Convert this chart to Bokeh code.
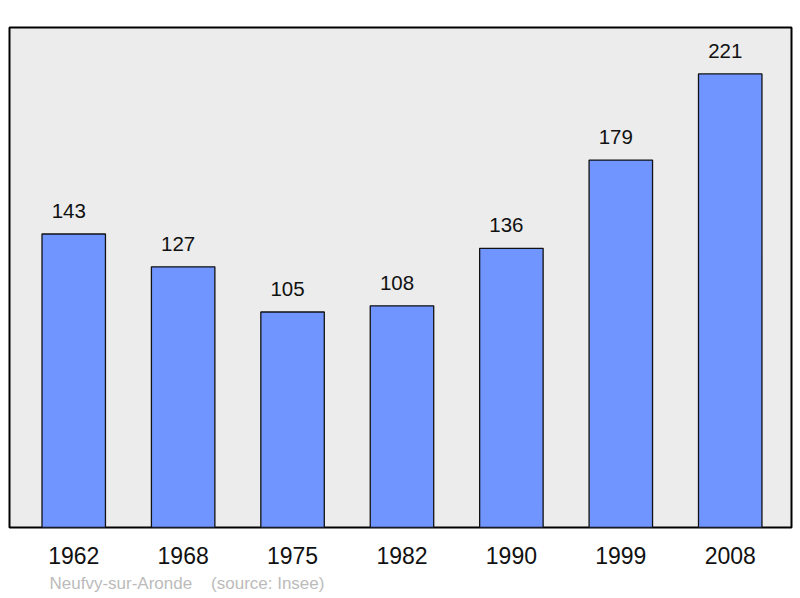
from bokeh.plotting import figure
from bokeh.models import ColumnDataSource, FixedTicker, Title
from bokeh.core.properties import value
from bokeh.embed import file_html
from bokeh.resources import INLINE

years = ["1962", "1968", "1975", "1982", "1990", "1999", "2008"]
population = [143, 127, 105, 108, 136, 179, 221]
town = "Neufvy-sur-Aronde"
source_note = "(source: Insee)"

FONT = "Liberation Sans"

xs = list(range(len(years)))
src = ColumnDataSource(data=dict(x=xs, top=population, label=[str(v) for v in population]))

p = figure(width=800, height=598, output_backend="svg", toolbar_location=None,
           x_range=(-0.587, 6.56), y_range=(0, 243.6),
           min_border_left=9, min_border_right=9, min_border_top=27, min_border_bottom=70)
p.yaxis.visible = False
p.grid.visible = False
p.background_fill_color = "#ececec"
p.border_fill_color = "white"
p.outline_line_color = "black"
p.outline_line_width = 2

# years as the x axis labels
ax = p.xaxis[0]
ax.ticker = FixedTicker(ticks=xs)
ax.major_label_overrides = {i: y for i, y in enumerate(years)}
ax.axis_line_color = None
ax.major_tick_line_color = None
ax.minor_tick_line_color = None
ax.major_label_standoff = 13
ax.major_label_text_font = FONT
ax.major_label_text_font_size = "23px"
ax.major_label_text_color = "#111111"

p.vbar(x="x", top="top", width=0.58, bottom=0, source=src,
       fill_color="#7095ff", line_color="#111111", line_width=1.3)

p.text(x="x", y="top", text="label", source=src, x_offset=-5, y_offset=-23,
       text_align="center", text_baseline="alphabetic",
       text_font=value(FONT), text_font_size="20.5px", text_color="#111111")

foot = Title(text=town + "\u00a0\u00a0\u00a0\u00a0" + source_note, align="left", offset=40,
             text_font=FONT, text_font_size="17px", text_font_style="normal",
             text_color="#bbbbbb", standoff=11)
p.add_layout(foot, "below")

open("out.html", "w").write(file_html(p, INLINE))
